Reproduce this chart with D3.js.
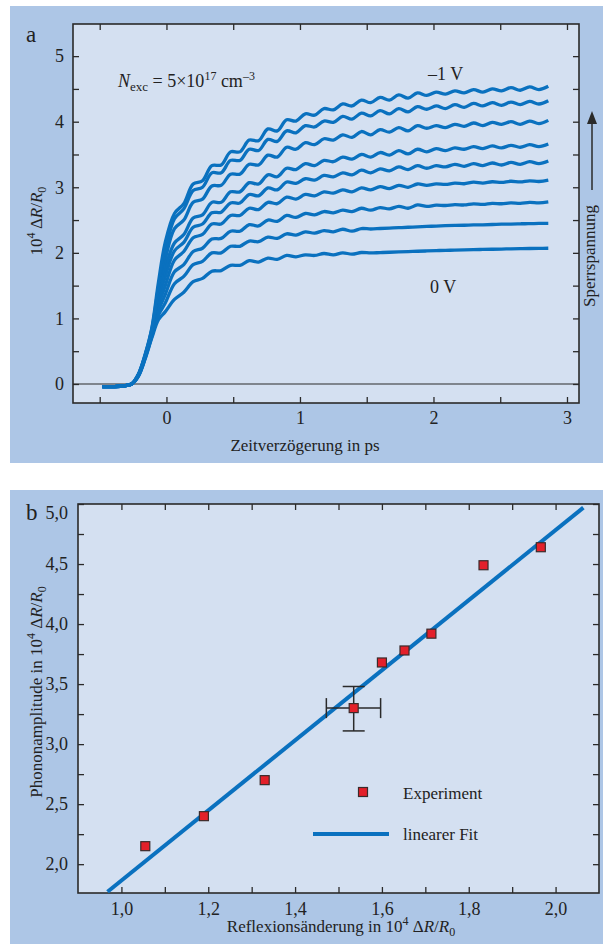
<!DOCTYPE html>
<html>
<head>
<meta charset="utf-8">
<script src="https://cdn.jsdelivr.net/npm/d3@7"></script>
<style>
  body { margin: 0; background: #fff; }
  svg { display: block; }
  text { font-family: "Liberation Serif", "DejaVu Serif", serif; fill: #222; }
</style>
</head>
<body>
<div id="chart"></div>
<script>
// ---------- panel a: transient reflectivity, 9 bias voltages (0 V ... -1 V)
const delay = [-0.48, -0.40, -0.32, -0.26, -0.21, -0.16, -0.11, -0.06, -0.01,
  0.06, 0.13, 0.20, 0.27, 0.34, 0.41, 0.48, 0.55, 0.62, 0.69, 0.76, 0.83, 0.90, 0.97,
  1.04, 1.11, 1.18, 1.25, 1.32, 1.39, 1.46, 1.53, 1.60, 1.67, 1.74, 1.81, 1.88, 1.95,
  2.02, 2.09, 2.16, 2.23, 2.30, 2.37, 2.44, 2.51, 2.58, 2.65, 2.72, 2.79, 2.86];

const curve0 = [-0.04,-0.04,-0.03,0.00,0.12,0.38,0.70,0.98,1.10,
  1.29,1.40,1.56,1.61,1.72,1.73,1.81,1.81,1.88,1.86,1.92,1.90,1.96,1.94,1.97,1.96,1.99,1.97,2.00,1.98,
  2.005,1.998,2.004,2.009,2.014,2.019,2.024,2.029,2.034,2.038,2.041,2.045,2.049,2.052,2.055,2.058,2.061,2.064,2.066,2.068,2.07];
const curve1 = [-0.04,-0.04,-0.03,0.00,0.12,0.39,0.72,1.05,1.23,
  1.53,1.64,1.82,1.87,2.00,2.00,2.10,2.10,2.18,2.17,2.24,2.22,2.29,2.27,2.32,2.30,2.34,2.32,2.36,2.33,
  2.37,2.364,2.371,2.378,2.384,2.39,2.397,2.403,2.408,2.414,2.418,2.421,2.426,2.428,2.432,2.437,2.439,2.443,2.445,2.449,2.45];
const curve2 = [-0.04,-0.04,-0.03,0.00,0.13,0.40,0.74,1.12,1.36,
  1.71,1.82,2.02,2.07,2.21,2.22,2.33,2.33,2.43,2.41,2.50,2.48,2.57,2.54,2.60,2.58,2.63,2.61,2.65,2.63,
  2.68,2.65,2.69,2.67,2.71,2.68,2.73,2.709,2.727,2.722,2.736,2.730,2.748,2.738,2.755,2.749,2.762,2.755,2.769,2.762,2.776];
const curve3 = [-0.04,-0.04,-0.03,0.00,0.13,0.41,0.76,1.19,1.49,
  1.89,2.02,2.23,2.28,2.44,2.44,2.57,2.57,2.68,2.66,2.77,2.75,2.85,2.82,2.89,2.87,2.93,2.91,2.96,2.93,
  2.99,2.96,3.01,2.98,3.03,3.00,3.05,3.030,3.052,3.043,3.063,3.054,3.077,3.063,3.084,3.075,3.092,3.081,3.099,3.088,3.108];
const curve4 = [-0.04,-0.04,-0.03,0.00,0.14,0.42,0.78,1.27,1.63,
  2.03,2.16,2.39,2.44,2.61,2.62,2.76,2.76,2.89,2.87,2.99,2.96,3.08,3.06,3.13,3.11,3.18,3.16,3.22,3.19,
  3.26,3.22,3.28,3.25,3.31,3.27,3.33,3.29,3.33,3.31,3.35,3.32,3.36,3.33,3.37,3.34,3.38,3.35,3.39,3.36,3.40];
const curve5 = [-0.04,-0.04,-0.03,0.00,0.14,0.42,0.79,1.34,1.76,
  2.15,2.28,2.53,2.58,2.77,2.77,2.93,2.93,3.07,3.05,3.19,3.16,3.29,3.27,3.36,3.33,3.41,3.39,3.46,3.43,
  3.50,3.46,3.53,3.49,3.56,3.51,3.58,3.54,3.59,3.56,3.60,3.58,3.62,3.59,3.63,3.60,3.64,3.61,3.65,3.62,3.66];
const curve6 = [-0.04,-0.04,-0.03,0.00,0.14,0.43,0.81,1.41,1.89,
  2.37,2.50,2.77,2.82,3.02,3.03,3.20,3.20,3.35,3.34,3.49,3.46,3.61,3.58,3.68,3.65,3.74,3.72,3.80,3.76,
  3.85,3.80,3.88,3.84,3.91,3.86,3.94,3.90,3.94,3.91,3.96,3.93,3.98,3.94,3.99,3.96,4.00,3.96,4.01,3.97,4.02];
const curve7 = [-0.04,-0.04,-0.03,0.00,0.15,0.44,0.83,1.48,2.02,
  2.52,2.67,2.95,3.00,3.22,3.22,3.41,3.41,3.58,3.56,3.73,3.70,3.86,3.83,3.94,3.92,4.01,3.99,4.08,4.04,
  4.13,4.09,4.17,4.12,4.20,4.15,4.23,4.19,4.24,4.20,4.26,4.22,4.28,4.24,4.29,4.25,4.30,4.26,4.31,4.27,4.32];
const curve8 = [-0.04,-0.04,-0.03,0.00,0.15,0.45,0.85,1.55,2.15,
  2.60,2.75,3.05,3.10,3.33,3.34,3.54,3.54,3.72,3.71,3.89,3.86,4.03,4.01,4.12,4.10,4.20,4.18,4.27,4.24,
  4.33,4.29,4.37,4.33,4.41,4.36,4.44,4.40,4.45,4.42,4.47,4.44,4.49,4.45,4.50,4.47,4.52,4.48,4.53,4.49,4.54];
const curvesA = [curve0, curve1, curve2, curve3, curve4, curve5, curve6, curve7, curve8];

const xTicksA = [0, 1, 2, 3];
const xMinorA = [-0.5, 0.5, 1.5, 2.5];
const yTicksA = [0, 1, 2, 3, 4, 5];
const yMinorA = [0.5, 1.5, 2.5, 3.5, 4.5];

// ---------- panel b: phonon amplitude vs. reflectivity change
const reflX = [1.055, 1.19, 1.33, 1.535, 1.60, 1.652, 1.714, 1.834, 1.966];
const phonY = [2.15, 2.40, 2.70, 3.30, 3.68, 3.78, 3.92, 4.49, 4.64];
const errIndex = 3;
const errXRange = [1.472, 1.597];
const errYRange = [3.11, 3.48];
const fitX = [0.968, 2.064];
const fitY = [1.77, 4.97];

const xTicksB = [1.0, 1.2, 1.4, 1.6, 1.8, 2.0];
const xMinorB = [1.1, 1.3, 1.5, 1.7, 1.9];
const yTicksB = [2.0, 2.5, 3.0, 3.5, 4.0, 4.5, 5.0];
const yMinorB = [2.25, 2.75, 3.25, 3.75, 4.25, 4.75];

// ---------- layout
const width = 603, height = 944;
const outerColor = "#adc6e6";
const plotColor = "#d4e0f1";
const lineColor = "#0a71bf";
const ink = "#2a2a2a";

const svg = d3.select("#chart").append("svg")
    .attr("width", width)
    .attr("height", height);

const de = d3.formatLocale({decimal: ",", thousands: ".", grouping: [3], currency: ["", ""]});
const fmtComma = de.format(".1f");

function drawAxes(g, x, y, xt, xm, yt, ym, xFmt, yFmt, xPad, yPad) {
  const [x0, x1] = x.range();
  const [y0, y1] = y.range(); // y0 bottom, y1 top
  const style = sel => {
    sel.select(".domain").remove();
    sel.selectAll(".tick line").attr("stroke", ink).attr("stroke-width", 1.3);
    sel.attr("font-family", "Liberation Serif, serif").attr("font-size", 18).attr("color", ink);
  };
  g.append("g").attr("transform", `translate(0,${y0})`)
    .call(d3.axisBottom(x).tickValues(xt).tickSize(-6).tickPadding(xPad).tickFormat(xFmt)).call(style);
  g.append("g").attr("transform", `translate(0,${y0})`)
    .call(d3.axisBottom(x).tickValues(xm).tickSize(-6).tickFormat("")).call(style);
  g.append("g").attr("transform", `translate(0,${y1})`)
    .call(d3.axisTop(x).tickValues(xt.concat(xm)).tickSize(-6).tickFormat("")).call(style);
  const left = g.append("g").attr("transform", `translate(${x0},0)`)
    .call(d3.axisLeft(y).tickValues(yt).tickSize(-6).tickPadding(yPad).tickFormat(yFmt)).call(style);
  g.append("g").attr("transform", `translate(${x0},0)`)
    .call(d3.axisLeft(y).tickValues(ym).tickSize(-6).tickFormat("")).call(style);
  g.append("g").attr("transform", `translate(${x1},0)`)
    .call(d3.axisRight(y).tickValues(yt.concat(ym)).tickSize(-6).tickFormat("")).call(style);
  g.append("rect")
    .attr("x", x0).attr("y", y1)
    .attr("width", x1 - x0).attr("height", y0 - y1)
    .attr("fill", "none").attr("stroke", ink).attr("stroke-width", 1.6);
  return left;
}

// ================= panel a =================
const gA = svg.append("g");
gA.append("rect").attr("x", 10).attr("y", 6).attr("width", width - 10).attr("height", 457)
  .attr("fill", outerColor);

const xA = d3.scaleLinear().domain([-0.7, 3.09]).range([73, 579]);
const yA = d3.scaleLinear().domain([-0.29, 5.49]).range([403, 24]);

gA.append("rect").attr("x", 73).attr("y", 24).attr("width", 579 - 73).attr("height", 403 - 24)
  .attr("fill", plotColor);

// zero line
gA.append("line")
  .attr("x1", xA.range()[0]).attr("x2", xA.range()[1])
  .attr("y1", yA(0)).attr("y2", yA(0))
  .attr("stroke", ink).attr("stroke-width", 1.2);

const lineA = d3.line()
  .x((d, i) => xA(delay[i]))
  .y(d => yA(d))
  .curve(d3.curveCatmullRom);

gA.append("g")
  .selectAll("path")
  .data(curvesA)
  .join("path")
    .attr("d", lineA)
    .attr("fill", "none")
    .attr("stroke", lineColor)
    .attr("stroke-width", 3.3)
    .attr("stroke-linejoin", "round");

drawAxes(gA, xA, yA, xTicksA, xMinorA, yTicksA, yMinorA, d3.format("d"), d3.format("d"), 8, 9);

gA.append("text").attr("x", 26).attr("y", 42).attr("font-size", 23).text("a");

// y title
const tyA = gA.append("text")
  .attr("transform", "translate(42,221) rotate(-90)")
  .attr("text-anchor", "middle").attr("font-size", 17);
tyA.append("tspan").text("10");
tyA.append("tspan").attr("font-size", 12).attr("dy", -7).text("4");
tyA.append("tspan").attr("dy", 7).text(" \u0394");
tyA.append("tspan").attr("font-style", "italic").text("R");
tyA.append("tspan").text("/");
tyA.append("tspan").attr("font-style", "italic").text("R");
tyA.append("tspan").attr("font-size", 12).attr("dy", 4).text("0");

gA.append("text").attr("x", 305).attr("y", 451).attr("text-anchor", "middle")
  .attr("font-size", 17).text("Zeitverz\u00f6gerung in ps");

// N_exc annotation
const tN = gA.append("text").attr("x", 118).attr("y", 87).attr("font-size", 18);
tN.append("tspan").attr("font-style", "italic").text("N");
tN.append("tspan").attr("font-size", 13).attr("dy", 4).text("exc");
tN.append("tspan").attr("dy", -4).text(" = 5\u00d710");
tN.append("tspan").attr("font-size", 12).attr("dy", -7).text("17");
tN.append("tspan").attr("dy", 7).text(" cm");
tN.append("tspan").attr("font-size", 12).attr("dy", -7).text("\u20133");

gA.append("text").attr("x", 428).attr("y", 80).attr("font-size", 18).text("\u20131 V");
gA.append("text").attr("x", 430).attr("y", 293).attr("font-size", 18).text("0 V");

// Sperrspannung arrow
gA.append("line").attr("x1", 592).attr("x2", 592).attr("y1", 190).attr("y2", 122)
  .attr("stroke", ink).attr("stroke-width", 1.5);
gA.append("path").attr("d", "M592,111 L587,124 L597,124 Z").attr("fill", ink);
gA.append("text")
  .attr("transform", "translate(595,256) rotate(-90)")
  .attr("text-anchor", "middle").attr("font-size", 17).text("Sperrspannung");

// ================= panel b =================
const gB = svg.append("g");
gB.append("rect").attr("x", 10).attr("y", 490).attr("width", width - 10).attr("height", height - 490)
  .attr("fill", outerColor);

const xB = d3.scaleLinear().domain([0.9, 2.1]).range([78, 599]);
const yB = d3.scaleLinear().domain([1.76, 5.0]).range([893, 504]);

gB.append("rect").attr("x", 78).attr("y", 504).attr("width", 599 - 78).attr("height", 893 - 504)
  .attr("fill", plotColor);

const leftB = drawAxes(gB, xB, yB, xTicksB, xMinorB, yTicksB, yMinorB, fmtComma, fmtComma, 9, 10);
leftB.selectAll(".tick").filter(d => d === 5).select("text").attr("y", 9);

// fit line
gB.append("path")
  .datum(fitX.map((d, i) => [d, fitY[i]]))
  .attr("d", d3.line().x(d => xB(d[0])).y(d => yB(d[1])))
  .attr("stroke", lineColor).attr("stroke-width", 4).attr("fill", "none");

// error bars
const ex = xB(reflX[errIndex]), ey = yB(phonY[errIndex]);
const err = gB.append("g").attr("stroke", ink).attr("stroke-width", 1.5);
err.append("line").attr("x1", xB(errXRange[0])).attr("x2", xB(errXRange[1])).attr("y1", ey).attr("y2", ey);
err.append("line").attr("x1", ex).attr("x2", ex).attr("y1", yB(errYRange[0])).attr("y2", yB(errYRange[1]));
err.selectAll(".capx").data(errXRange).join("line")
  .attr("x1", d => xB(d)).attr("x2", d => xB(d)).attr("y1", ey - 10).attr("y2", ey + 10);
err.selectAll(".capy").data(errYRange).join("line")
  .attr("x1", ex - 11).attr("x2", ex + 11).attr("y1", d => yB(d)).attr("y2", d => yB(d));

// experiment points
const sq = 9;
gB.append("g")
  .selectAll("rect")
  .data(reflX.map((d, i) => [d, phonY[i]]))
  .join("rect")
    .attr("x", d => xB(d[0]) - sq / 2)
    .attr("y", d => yB(d[1]) - sq / 2)
    .attr("width", sq).attr("height", sq)
    .attr("fill", "#e3202a")
    .attr("stroke", "#3b2b2b").attr("stroke-width", 1.2);

// legend
gB.append("rect").attr("x", 363 - sq / 2).attr("y", 792 - sq / 2).attr("width", sq).attr("height", sq)
  .attr("fill", "#e3202a").attr("stroke", "#3b2b2b").attr("stroke-width", 1.2);
gB.append("text").attr("x", 403).attr("y", 799).attr("font-size", 17).text("Experiment");
gB.append("line").attr("x1", 313).attr("x2", 389).attr("y1", 834).attr("y2", 834)
  .attr("stroke", lineColor).attr("stroke-width", 4);
gB.append("text").attr("x", 403).attr("y", 840).attr("font-size", 17).text("linearer Fit");

gB.append("text").attr("x", 26).attr("y", 520).attr("font-size", 23).text("b");

const tyB = gB.append("text")
  .attr("transform", "translate(42,692) rotate(-90)")
  .attr("text-anchor", "middle").attr("font-size", 17);
tyB.append("tspan").text("Phononamplitude in 10");
tyB.append("tspan").attr("font-size", 12).attr("dy", -7).text("4");
tyB.append("tspan").attr("dy", 7).text(" \u0394");
tyB.append("tspan").attr("font-style", "italic").text("R");
tyB.append("tspan").text("/");
tyB.append("tspan").attr("font-style", "italic").text("R");
tyB.append("tspan").attr("font-size", 12).attr("dy", 4).text("0");

const txB = gB.append("text").attr("x", 341).attr("y", 932).attr("text-anchor", "middle").attr("font-size", 17);
txB.append("tspan").text("Reflexions\u00e4nderung in 10");
txB.append("tspan").attr("font-size", 12).attr("dy", -7).text("4");
txB.append("tspan").attr("dy", 7).text(" \u0394");
txB.append("tspan").attr("font-style", "italic").text("R");
txB.append("tspan").text("/");
txB.append("tspan").attr("font-style", "italic").text("R");
txB.append("tspan").attr("font-size", 12).attr("dy", 4).text("0");
</script>
</body>
</html>
